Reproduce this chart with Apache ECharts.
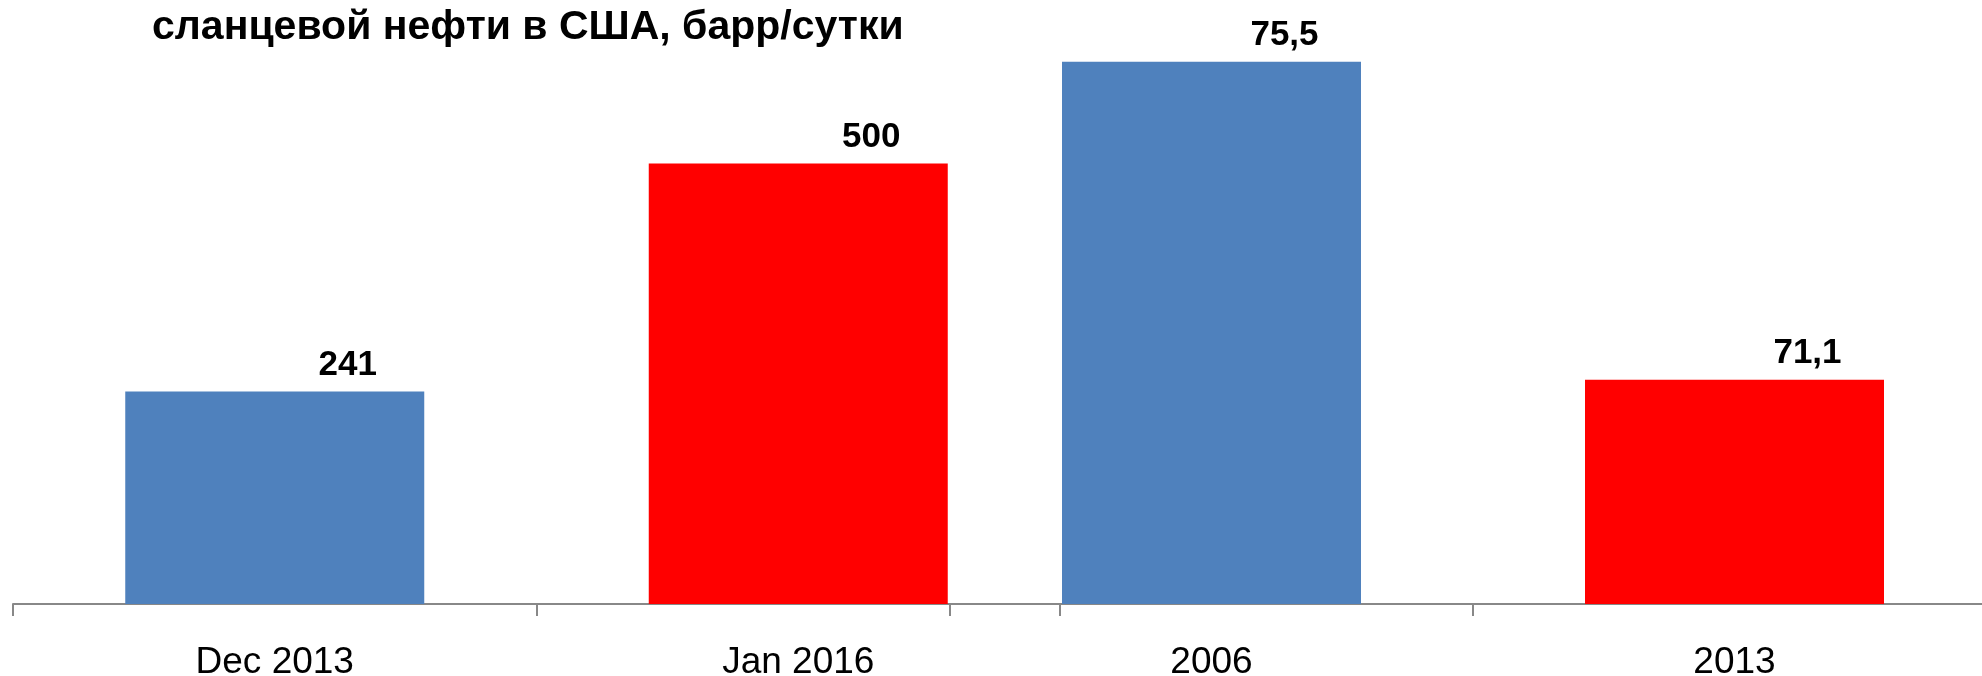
<!DOCTYPE html>
<html>
<head>
<meta charset="utf-8">
<script src="https://cdn.jsdelivr.net/npm/echarts@6/dist/echarts.min.js"></script>
<style>
    html, body { margin: 0; padding: 0; background: #fff; }
    #chart { width: 1982px; height: 676px; }
</style>
</head>
<body>
<div id="chart"></div>
<script>
// left block (барр/сутки)
const catsLeft = ['Dec 2013', 'Jan 2016']
const valsLeft = [241, 500]
// right block
const catsRight = ['2006', '2013']
const valsRight = [75.5, 71.1]

const BLUE = '#4F81BD'
const RED = '#FF0000'
const FONT = 'Liberation Sans, Arial, sans-serif'

const colorsLeft = [BLUE, RED]
const colorsRight = [BLUE, RED]

const xAxisBase = (idx, data) => ({
    type: 'category',
    gridIndex: idx,
    data: data,
    axisLine: { lineStyle: { color: '#888', width: 2 } },
    axisTick: { show: true, length: 12, lineStyle: { color: '#888', width: 2 } },
    axisLabel: { color: '#000', fontSize: 37, fontFamily: FONT, margin: 40 }
})

const barLabel = {
    show: true,
    position: 'top',
    distance: 9,
    offset: [73, 0],
    color: '#000',
    fontSize: 35,
    fontWeight: 'bold',
    fontFamily: FONT,
    formatter: p => String(p.value).replace('.', ',')
}

var myChart = echarts.init(document.getElementById('chart'))
myChart.setOption({
    animation: false,
    title: {
        text: 'сланцевой нефти в США, барр/сутки',
        left: 147,
        top: 2,
        textStyle: { fontSize: 41, fontWeight: 'bold', color: '#000', fontFamily: FONT }
    },
    grid: [
        // second block runs past the right edge, so no fitting into the container
        { left: 13, top: 40, width: 1047, height: 564, outerBoundsMode: 'none' },
        { left: 950, top: 40, width: 1046, height: 564, outerBoundsMode: 'none' }
    ],
    xAxis: [xAxisBase(0, catsLeft), xAxisBase(1, catsRight)],
    yAxis: [
        { type: 'value', gridIndex: 0, min: 0, max: 640, show: false },
        { type: 'value', gridIndex: 1, min: 68, max: 75.8, show: false }
    ],
    series: [
        {
            type: 'bar',
            xAxisIndex: 0,
            yAxisIndex: 0,
            barWidth: 299,
            data: valsLeft.map((v, i) => ({ value: v, itemStyle: { color: colorsLeft[i] } })),
            label: barLabel
        },
        {
            type: 'bar',
            xAxisIndex: 1,
            yAxisIndex: 1,
            barWidth: 299,
            data: valsRight.map((v, i) => ({ value: v, itemStyle: { color: colorsRight[i] } })),
            label: barLabel
        }
    ]
})
</script>
</body>
</html>
